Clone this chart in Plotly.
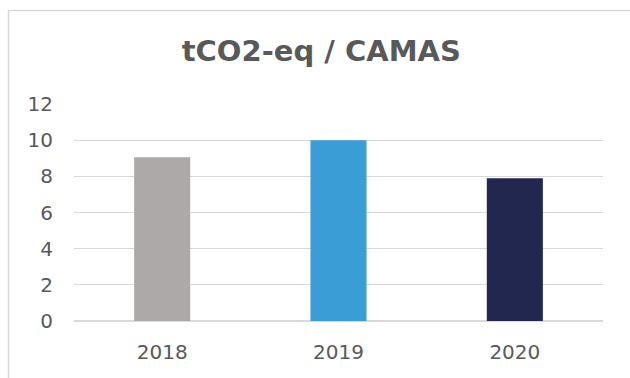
import plotly.graph_objects as go

# tCO2-eq per bed, by year
years = ["2018", "2019", "2020"]
values = [9.05, 10.0, 7.9]
bar_colors = ["#ADA9A8", "#3A9DD6", "#222750"]
y_ticks = [0, 2, 4, 6, 8, 10, 12]

text_color = "#595959"
grid_color = "#D9D9D9"
font_family = "'DejaVu Sans', sans-serif"

W, H = 630, 378
m_l, m_r, m_t, m_b = 74, 27, 104, 57
plot_w = W - m_l - m_r
plot_h = H - m_t - m_b


def px_to_paper_x(px):
    return (px - m_l) / plot_w


def px_to_paper_y(py):
    return (H - m_b - py) / plot_h


fig = go.Figure(
    go.Bar(
        x=years,
        y=values,
        marker=dict(color=bar_colors, line=dict(width=0)),
        hoverinfo="x+y",
    )
)

# Chart frame (light gray outline around the whole chart area)
fig.add_shape(
    type="rect",
    xref="paper", yref="paper",
    x0=px_to_paper_x(8.5), x1=px_to_paper_x(W + 20),
    y0=px_to_paper_y(H + 20), y1=px_to_paper_y(10.5),
    line=dict(color=grid_color, width=1.5),
    fillcolor="rgba(0,0,0,0)",
    layer="below",
)

fig.update_layout(
    width=W,
    height=H,
    margin=dict(l=m_l, r=m_r, t=m_t, b=m_b, pad=0),
    paper_bgcolor="white",
    plot_bgcolor="white",
    bargap=0.682,
    showlegend=False,
    font=dict(family=font_family, color=text_color, size=19),
    title=dict(
        text="<b>tCO2-eq / CAMAS</b>",
        x=0.51,
        xanchor="center",
        y=1 - 51 / H,
        yanchor="middle",
        yref="container",
        font=dict(family=font_family, size=29, color=text_color),
    ),
    xaxis=dict(
        showgrid=False,
        showline=False,
        ticks="",
        ticklabelstandoff=17,
        tickfont=dict(size=20, color=text_color),
    ),
    yaxis=dict(
        range=[0, 12],
        tickvals=y_ticks,
        showgrid=True,
        gridcolor=grid_color,
        gridwidth=1.3,
        zeroline=True,
        zerolinecolor=grid_color,
        zerolinewidth=1.5,
        showline=False,
        ticks="",
        ticklabelstandoff=20,
        tickfont=dict(size=20, color=text_color),
    ),
)

fig.write_html("out.html")
